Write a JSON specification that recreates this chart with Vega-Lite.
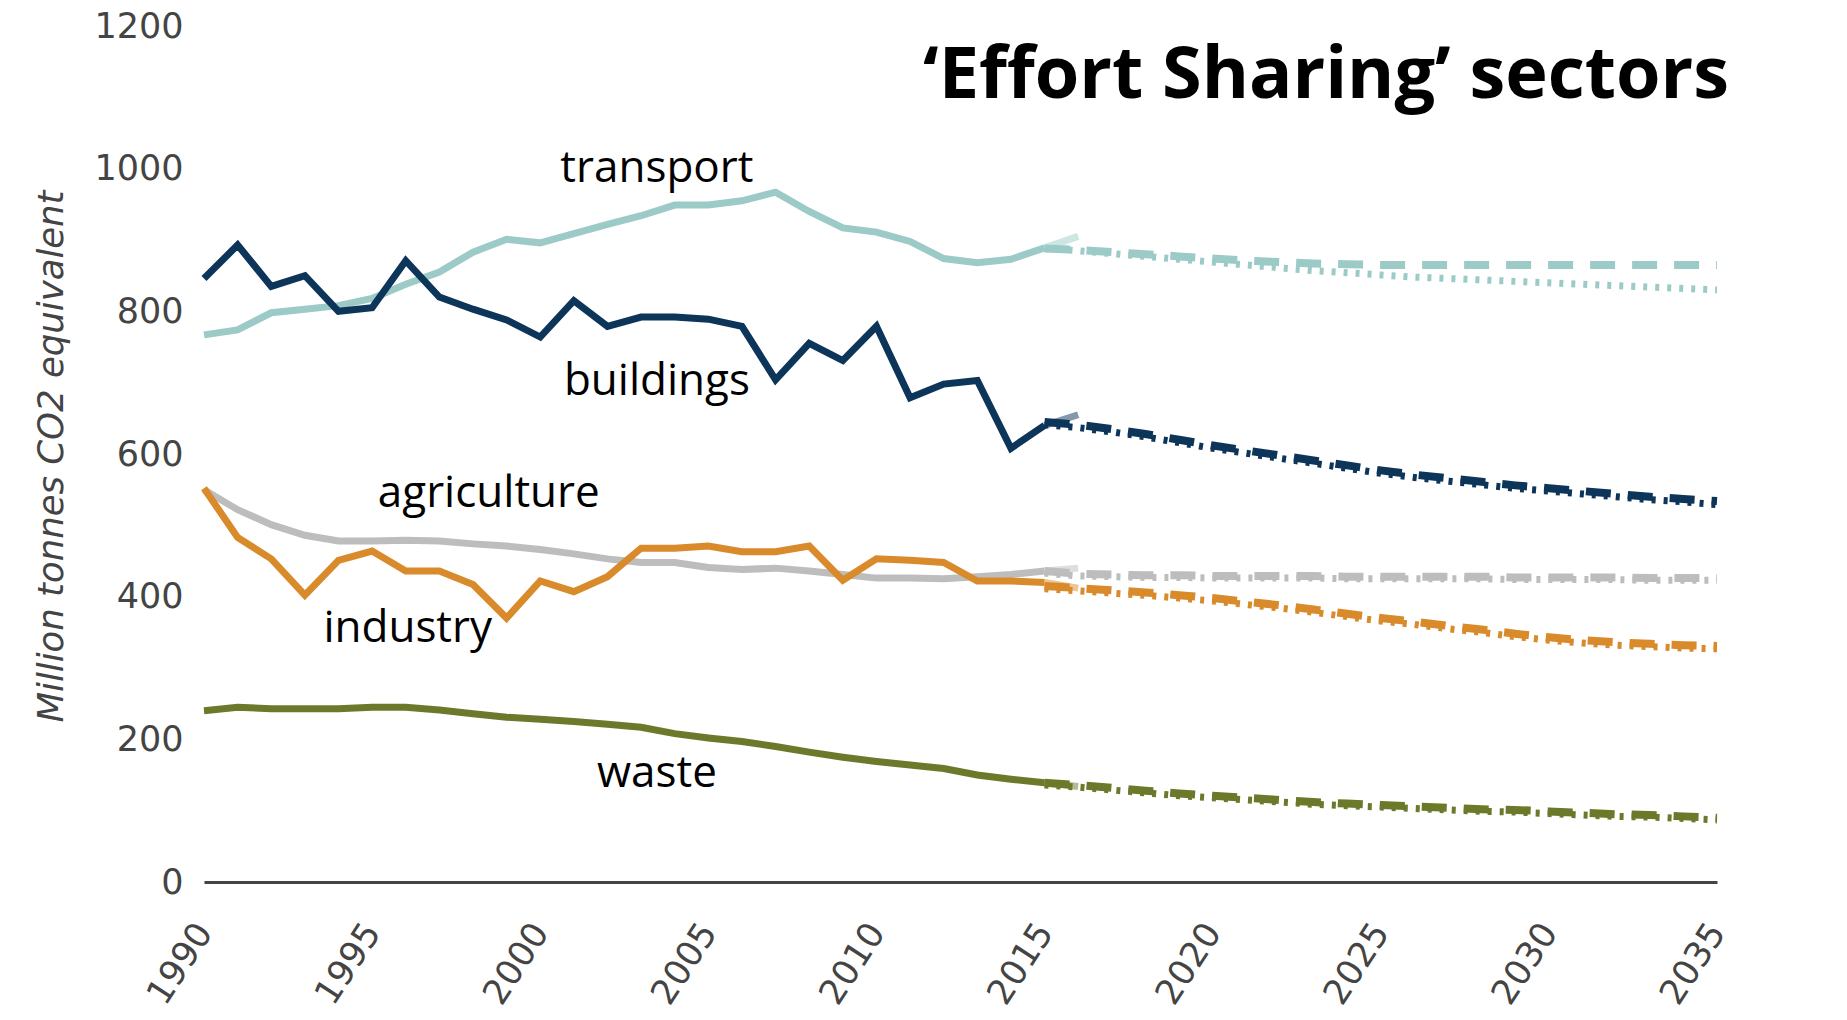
{
  "$schema": "https://vega.github.io/schema/vega-lite/v6.json",
  "width": 1513,
  "height": 856,
  "autosize": {"type": "none"},
  "padding": {"left": 204, "top": 26, "right": 130, "bottom": 138},
  "background": "white",
  "config": {"view": {"stroke": null}},
  "datasets": {
    "hist": [
      {"sector":"transport","year":1990,"value":767},{"sector":"transport","year":1991,"value":774},{"sector":"transport","year":1992,"value":798},{"sector":"transport","year":1993,"value":803},{"sector":"transport","year":1994,"value":808},{"sector":"transport","year":1995,"value":818},{"sector":"transport","year":1996,"value":838},{"sector":"transport","year":1997,"value":855},{"sector":"transport","year":1998,"value":883},{"sector":"transport","year":1999,"value":901},{"sector":"transport","year":2000,"value":896},{"sector":"transport","year":2001,"value":909},{"sector":"transport","year":2002,"value":922},{"sector":"transport","year":2003,"value":934},{"sector":"transport","year":2004,"value":949},{"sector":"transport","year":2005,"value":949},{"sector":"transport","year":2006,"value":955},{"sector":"transport","year":2007,"value":967},{"sector":"transport","year":2008,"value":940},{"sector":"transport","year":2009,"value":917},{"sector":"transport","year":2010,"value":911},{"sector":"transport","year":2011,"value":898},{"sector":"transport","year":2012,"value":874},{"sector":"transport","year":2013,"value":868},{"sector":"transport","year":2014,"value":873},{"sector":"transport","year":2015,"value":889},
      {"sector":"buildings","year":1990,"value":846},{"sector":"buildings","year":1991,"value":893},{"sector":"buildings","year":1992,"value":835},{"sector":"buildings","year":1993,"value":850},{"sector":"buildings","year":1994,"value":800},{"sector":"buildings","year":1995,"value":805},{"sector":"buildings","year":1996,"value":871},{"sector":"buildings","year":1997,"value":820},{"sector":"buildings","year":1998,"value":803},{"sector":"buildings","year":1999,"value":788},{"sector":"buildings","year":2000,"value":764},{"sector":"buildings","year":2001,"value":815},{"sector":"buildings","year":2002,"value":779},{"sector":"buildings","year":2003,"value":792},{"sector":"buildings","year":2004,"value":792},{"sector":"buildings","year":2005,"value":789},{"sector":"buildings","year":2006,"value":779},{"sector":"buildings","year":2007,"value":704},{"sector":"buildings","year":2008,"value":755},{"sector":"buildings","year":2009,"value":731},{"sector":"buildings","year":2010,"value":779},{"sector":"buildings","year":2011,"value":679},{"sector":"buildings","year":2012,"value":698},{"sector":"buildings","year":2013,"value":703},{"sector":"buildings","year":2014,"value":608},{"sector":"buildings","year":2015,"value":640},
      {"sector":"agriculture","year":1990,"value":550},{"sector":"agriculture","year":1991,"value":522},{"sector":"agriculture","year":1992,"value":501},{"sector":"agriculture","year":1993,"value":486},{"sector":"agriculture","year":1994,"value":478},{"sector":"agriculture","year":1995,"value":478},{"sector":"agriculture","year":1996,"value":479},{"sector":"agriculture","year":1997,"value":478},{"sector":"agriculture","year":1998,"value":474},{"sector":"agriculture","year":1999,"value":471},{"sector":"agriculture","year":2000,"value":466},{"sector":"agriculture","year":2001,"value":460},{"sector":"agriculture","year":2002,"value":453},{"sector":"agriculture","year":2003,"value":448},{"sector":"agriculture","year":2004,"value":448},{"sector":"agriculture","year":2005,"value":441},{"sector":"agriculture","year":2006,"value":438},{"sector":"agriculture","year":2007,"value":440},{"sector":"agriculture","year":2008,"value":436},{"sector":"agriculture","year":2009,"value":431},{"sector":"agriculture","year":2010,"value":426},{"sector":"agriculture","year":2011,"value":426},{"sector":"agriculture","year":2012,"value":425},{"sector":"agriculture","year":2013,"value":428},{"sector":"agriculture","year":2014,"value":431},{"sector":"agriculture","year":2015,"value":436},
      {"sector":"industry","year":1990,"value":552},{"sector":"industry","year":1991,"value":483},{"sector":"industry","year":1992,"value":453},{"sector":"industry","year":1993,"value":402},{"sector":"industry","year":1994,"value":451},{"sector":"industry","year":1995,"value":464},{"sector":"industry","year":1996,"value":436},{"sector":"industry","year":1997,"value":436},{"sector":"industry","year":1998,"value":417},{"sector":"industry","year":1999,"value":370},{"sector":"industry","year":2000,"value":422},{"sector":"industry","year":2001,"value":407},{"sector":"industry","year":2002,"value":428},{"sector":"industry","year":2003,"value":468},{"sector":"industry","year":2004,"value":468},{"sector":"industry","year":2005,"value":471},{"sector":"industry","year":2006,"value":463},{"sector":"industry","year":2007,"value":463},{"sector":"industry","year":2008,"value":471},{"sector":"industry","year":2009,"value":423},{"sector":"industry","year":2010,"value":453},{"sector":"industry","year":2011,"value":451},{"sector":"industry","year":2012,"value":448},{"sector":"industry","year":2013,"value":422},{"sector":"industry","year":2014,"value":422},{"sector":"industry","year":2015,"value":420},
      {"sector":"waste","year":1990,"value":240},{"sector":"waste","year":1991,"value":245},{"sector":"waste","year":1992,"value":243},{"sector":"waste","year":1993,"value":243},{"sector":"waste","year":1994,"value":243},{"sector":"waste","year":1995,"value":245},{"sector":"waste","year":1996,"value":245},{"sector":"waste","year":1997,"value":241},{"sector":"waste","year":1998,"value":236},{"sector":"waste","year":1999,"value":231},{"sector":"waste","year":2000,"value":228},{"sector":"waste","year":2001,"value":225},{"sector":"waste","year":2002,"value":221},{"sector":"waste","year":2003,"value":217},{"sector":"waste","year":2004,"value":208},{"sector":"waste","year":2005,"value":202},{"sector":"waste","year":2006,"value":197},{"sector":"waste","year":2007,"value":190},{"sector":"waste","year":2008,"value":182},{"sector":"waste","year":2009,"value":175},{"sector":"waste","year":2010,"value":169},{"sector":"waste","year":2011,"value":164},{"sector":"waste","year":2012,"value":159},{"sector":"waste","year":2013,"value":150},{"sector":"waste","year":2014,"value":144},{"sector":"waste","year":2015,"value":139}
    ],
    "proxy": [
      {"sector":"transport","year":2015,"value":889},{"sector":"transport","year":2016,"value":905},
      {"sector":"buildings","year":2015,"value":640},{"sector":"buildings","year":2016,"value":655},
      {"sector":"agriculture","year":2015,"value":436},{"sector":"agriculture","year":2016,"value":440},
      {"sector":"industry","year":2015,"value":420},{"sector":"industry","year":2016,"value":412},
      {"sector":"waste","year":2015,"value":139},{"sector":"waste","year":2016,"value":134}
    ],
    "wem": [
      {"sector":"transport","year":2015,"value":888},{"sector":"transport","year":2016,"value":886},{"sector":"transport","year":2017,"value":883},{"sector":"transport","year":2018,"value":880},{"sector":"transport","year":2019,"value":877},{"sector":"transport","year":2020,"value":874},{"sector":"transport","year":2021,"value":871},{"sector":"transport","year":2022,"value":869},{"sector":"transport","year":2023,"value":867},{"sector":"transport","year":2024,"value":866},{"sector":"transport","year":2025,"value":865},{"sector":"transport","year":2026,"value":865},{"sector":"transport","year":2027,"value":865},{"sector":"transport","year":2028,"value":865},{"sector":"transport","year":2029,"value":865},{"sector":"transport","year":2030,"value":865},{"sector":"transport","year":2031,"value":865},{"sector":"transport","year":2032,"value":865},{"sector":"transport","year":2033,"value":865},{"sector":"transport","year":2034,"value":865},{"sector":"transport","year":2035,"value":865},
      {"sector":"buildings","year":2015,"value":645},{"sector":"buildings","year":2016,"value":641},{"sector":"buildings","year":2017,"value":635},{"sector":"buildings","year":2018,"value":628},{"sector":"buildings","year":2019,"value":620},{"sector":"buildings","year":2020,"value":612},{"sector":"buildings","year":2021,"value":605},{"sector":"buildings","year":2022,"value":598},{"sector":"buildings","year":2023,"value":591},{"sector":"buildings","year":2024,"value":584},{"sector":"buildings","year":2025,"value":577},{"sector":"buildings","year":2026,"value":571},{"sector":"buildings","year":2027,"value":566},{"sector":"buildings","year":2028,"value":561},{"sector":"buildings","year":2029,"value":556},{"sector":"buildings","year":2030,"value":552},{"sector":"buildings","year":2031,"value":548},{"sector":"buildings","year":2032,"value":544},{"sector":"buildings","year":2033,"value":540},{"sector":"buildings","year":2034,"value":537},{"sector":"buildings","year":2035,"value":534},
      {"sector":"agriculture","year":2015,"value":436},{"sector":"agriculture","year":2016,"value":432},{"sector":"agriculture","year":2017,"value":431},{"sector":"agriculture","year":2018,"value":430},{"sector":"agriculture","year":2019,"value":430},{"sector":"agriculture","year":2020,"value":429},{"sector":"agriculture","year":2021,"value":429},{"sector":"agriculture","year":2022,"value":429},{"sector":"agriculture","year":2023,"value":429},{"sector":"agriculture","year":2024,"value":428},{"sector":"agriculture","year":2025,"value":428},{"sector":"agriculture","year":2026,"value":428},{"sector":"agriculture","year":2027,"value":428},{"sector":"agriculture","year":2028,"value":428},{"sector":"agriculture","year":2029,"value":427},{"sector":"agriculture","year":2030,"value":427},{"sector":"agriculture","year":2031,"value":427},{"sector":"agriculture","year":2032,"value":427},{"sector":"agriculture","year":2033,"value":426},{"sector":"agriculture","year":2034,"value":426},{"sector":"agriculture","year":2035,"value":426},
      {"sector":"industry","year":2015,"value":415},{"sector":"industry","year":2016,"value":412},{"sector":"industry","year":2017,"value":409},{"sector":"industry","year":2018,"value":406},{"sector":"industry","year":2019,"value":402},{"sector":"industry","year":2020,"value":398},{"sector":"industry","year":2021,"value":393},{"sector":"industry","year":2022,"value":388},{"sector":"industry","year":2023,"value":382},{"sector":"industry","year":2024,"value":376},{"sector":"industry","year":2025,"value":370},{"sector":"industry","year":2026,"value":365},{"sector":"industry","year":2027,"value":359},{"sector":"industry","year":2028,"value":354},{"sector":"industry","year":2029,"value":348},{"sector":"industry","year":2030,"value":343},{"sector":"industry","year":2031,"value":339},{"sector":"industry","year":2032,"value":336},{"sector":"industry","year":2033,"value":334},{"sector":"industry","year":2034,"value":332},{"sector":"industry","year":2035,"value":331},
      {"sector":"waste","year":2015,"value":139},{"sector":"waste","year":2016,"value":136},{"sector":"waste","year":2017,"value":132},{"sector":"waste","year":2018,"value":128},{"sector":"waste","year":2019,"value":124},{"sector":"waste","year":2020,"value":121},{"sector":"waste","year":2021,"value":118},{"sector":"waste","year":2022,"value":115},{"sector":"waste","year":2023,"value":112},{"sector":"waste","year":2024,"value":110},{"sector":"waste","year":2025,"value":108},{"sector":"waste","year":2026,"value":106},{"sector":"waste","year":2027,"value":104},{"sector":"waste","year":2028,"value":102},{"sector":"waste","year":2029,"value":101},{"sector":"waste","year":2030,"value":99},{"sector":"waste","year":2031,"value":97},{"sector":"waste","year":2032,"value":95},{"sector":"waste","year":2033,"value":94},{"sector":"waste","year":2034,"value":92},{"sector":"waste","year":2035,"value":90}
    ],
    "wam": [
      {"sector":"transport","year":2015,"value":888},{"sector":"transport","year":2016,"value":885},{"sector":"transport","year":2017,"value":881},{"sector":"transport","year":2018,"value":877},{"sector":"transport","year":2019,"value":873},{"sector":"transport","year":2020,"value":869},{"sector":"transport","year":2021,"value":865},{"sector":"transport","year":2022,"value":861},{"sector":"transport","year":2023,"value":857},{"sector":"transport","year":2024,"value":854},{"sector":"transport","year":2025,"value":851},{"sector":"transport","year":2026,"value":848},{"sector":"transport","year":2027,"value":846},{"sector":"transport","year":2028,"value":844},{"sector":"transport","year":2029,"value":842},{"sector":"transport","year":2030,"value":840},{"sector":"transport","year":2031,"value":838},{"sector":"transport","year":2032,"value":836},{"sector":"transport","year":2033,"value":834},{"sector":"transport","year":2034,"value":832},{"sector":"transport","year":2035,"value":830},
      {"sector":"buildings","year":2015,"value":641},{"sector":"buildings","year":2016,"value":637},{"sector":"buildings","year":2017,"value":631},{"sector":"buildings","year":2018,"value":624},{"sector":"buildings","year":2019,"value":616},{"sector":"buildings","year":2020,"value":608},{"sector":"buildings","year":2021,"value":601},{"sector":"buildings","year":2022,"value":594},{"sector":"buildings","year":2023,"value":587},{"sector":"buildings","year":2024,"value":580},{"sector":"buildings","year":2025,"value":573},{"sector":"buildings","year":2026,"value":567},{"sector":"buildings","year":2027,"value":562},{"sector":"buildings","year":2028,"value":557},{"sector":"buildings","year":2029,"value":552},{"sector":"buildings","year":2030,"value":548},{"sector":"buildings","year":2031,"value":544},{"sector":"buildings","year":2032,"value":540},{"sector":"buildings","year":2033,"value":536},{"sector":"buildings","year":2034,"value":533},{"sector":"buildings","year":2035,"value":529},
      {"sector":"agriculture","year":2015,"value":433},{"sector":"agriculture","year":2016,"value":429},{"sector":"agriculture","year":2017,"value":428},{"sector":"agriculture","year":2018,"value":427},{"sector":"agriculture","year":2019,"value":427},{"sector":"agriculture","year":2020,"value":426},{"sector":"agriculture","year":2021,"value":426},{"sector":"agriculture","year":2022,"value":426},{"sector":"agriculture","year":2023,"value":426},{"sector":"agriculture","year":2024,"value":425},{"sector":"agriculture","year":2025,"value":425},{"sector":"agriculture","year":2026,"value":425},{"sector":"agriculture","year":2027,"value":425},{"sector":"agriculture","year":2028,"value":425},{"sector":"agriculture","year":2029,"value":424},{"sector":"agriculture","year":2030,"value":424},{"sector":"agriculture","year":2031,"value":424},{"sector":"agriculture","year":2032,"value":424},{"sector":"agriculture","year":2033,"value":423},{"sector":"agriculture","year":2034,"value":423},{"sector":"agriculture","year":2035,"value":423},
      {"sector":"industry","year":2015,"value":411},{"sector":"industry","year":2016,"value":408},{"sector":"industry","year":2017,"value":405},{"sector":"industry","year":2018,"value":402},{"sector":"industry","year":2019,"value":398},{"sector":"industry","year":2020,"value":394},{"sector":"industry","year":2021,"value":389},{"sector":"industry","year":2022,"value":384},{"sector":"industry","year":2023,"value":378},{"sector":"industry","year":2024,"value":372},{"sector":"industry","year":2025,"value":366},{"sector":"industry","year":2026,"value":361},{"sector":"industry","year":2027,"value":355},{"sector":"industry","year":2028,"value":350},{"sector":"industry","year":2029,"value":344},{"sector":"industry","year":2030,"value":339},{"sector":"industry","year":2031,"value":335},{"sector":"industry","year":2032,"value":332},{"sector":"industry","year":2033,"value":330},{"sector":"industry","year":2034,"value":328},{"sector":"industry","year":2035,"value":327},
      {"sector":"waste","year":2015,"value":136},{"sector":"waste","year":2016,"value":133},{"sector":"waste","year":2017,"value":129},{"sector":"waste","year":2018,"value":125},{"sector":"waste","year":2019,"value":121},{"sector":"waste","year":2020,"value":118},{"sector":"waste","year":2021,"value":115},{"sector":"waste","year":2022,"value":112},{"sector":"waste","year":2023,"value":109},{"sector":"waste","year":2024,"value":107},{"sector":"waste","year":2025,"value":105},{"sector":"waste","year":2026,"value":103},{"sector":"waste","year":2027,"value":101},{"sector":"waste","year":2028,"value":99},{"sector":"waste","year":2029,"value":98},{"sector":"waste","year":2030,"value":96},{"sector":"waste","year":2031,"value":94},{"sector":"waste","year":2032,"value":92},{"sector":"waste","year":2033,"value":91},{"sector":"waste","year":2034,"value":89},{"sector":"waste","year":2035,"value":87}
    ],
    "labels": [
      {"year":2003.47,"value":982,"text":"transport"},
      {"year":2003.47,"value":683,"text":"buildings"},
      {"year":1998.47,"value":526,"text":"agriculture"},
      {"year":1996.06,"value":336,"text":"industry"},
      {"year":2003.47,"value":133,"text":"waste"}
    ],
    "heading": [
      {"year":2035.36,"value":1099,"text":"‘Effort Sharing’ sectors"}
    ]
  },
  "encoding": {
    "x": {
      "field": "year", "type": "quantitative",
      "scale": {"domain": [1990, 2035], "nice": false, "zero": false},
      "axis": {
        "values": [1990, 1995, 2000, 2005, 2010, 2015, 2020, 2025, 2030, 2035],
        "format": "d", "title": null, "grid": false, "ticks": false,
        "labelAngle": -57, "labelAlign": "right", "labelBaseline": "middle",
        "labelFont": "DejaVu Sans", "labelFontSize": 35, "labelColor": "#444444",
        "labelPadding": 44, "labelFlush": false, "labelOverlap": false, "labelBound": false,
        "domainColor": "#444444", "domainWidth": 3
      }
    },
    "y": {
      "field": "value", "type": "quantitative",
      "scale": {"domain": [0, 1200], "nice": false},
      "axis": {
        "values": [0, 200, 400, 600, 800, 1000, 1200],
        "format": "d", "grid": false, "ticks": false, "domain": false,
        "labelFont": "DejaVu Sans", "labelFontSize": 35, "labelColor": "#444444",
        "labelPadding": 21, "labelFlush": false, "labelOverlap": false,
        "title": "Million tonnes CO2 equivalent",
        "titleFont": "DejaVu Sans", "titleFontStyle": "italic", "titleFontWeight": "normal",
        "titleFontSize": 35.5, "titleColor": "#444444",
        "titleX": -153, "titleY": 430, "titleAngle": -90, "titleAlign": "center", "titleBaseline": "middle"
      }
    }
  },
  "layer": [
    {
      "data": {"name": "hist"},
      "mark": {"type": "line", "strokeWidth": 7, "strokeJoin": "miter", "clip": false},
      "encoding": {
        "color": {"field": "sector", "type": "nominal", "legend": null,
          "scale": {"domain": ["transport", "buildings", "agriculture", "industry", "waste"],
                    "range": ["#9ccbc7", "#0d3459", "#bdbdbd", "#d98b2b", "#6b7a2a"]}}
      }
    },
    {
      "data": {"name": "proxy"},
      "mark": {"type": "line", "strokeWidth": 7, "opacity": 0.5, "clip": false},
      "encoding": {
        "color": {"field": "sector", "type": "nominal", "legend": null}
      }
    },
    {
      "data": {"name": "wem"},
      "mark": {"type": "line", "strokeWidth": 8, "strokeDash": [25, 17], "strokeCap": "butt", "clip": false},
      "encoding": {
        "color": {"field": "sector", "type": "nominal", "legend": null}
      }
    },
    {
      "data": {"name": "wam"},
      "mark": {"type": "line", "strokeWidth": 7, "strokeDash": [4, 8], "strokeCap": "butt", "clip": false},
      "encoding": {
        "color": {"field": "sector", "type": "nominal", "legend": null}
      }
    },
    {
      "data": {"name": "labels"},
      "mark": {"type": "text", "font": "Open Sans", "fontSize": 44, "color": "#000000", "align": "center", "baseline": "alphabetic"},
      "encoding": {"text": {"field": "text"}}
    },
    {
      "data": {"name": "heading"},
      "mark": {"type": "text", "font": "Open Sans", "fontSize": 72, "fontWeight": "bold", "color": "#000000", "align": "right", "baseline": "alphabetic", "clip": false},
      "encoding": {"text": {"field": "text"}}
    }
  ]
}
